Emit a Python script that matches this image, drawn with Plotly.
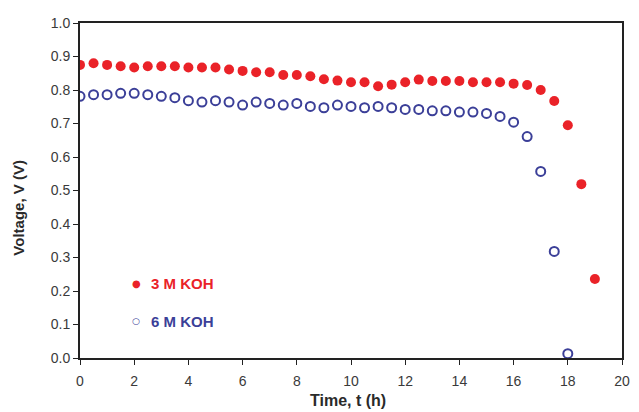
import plotly.graph_objects as go

# Discharge time (h) and cell voltage (V) for the two electrolyte concentrations
time_3m = [0, 0.5, 1, 1.5, 2, 2.5, 3, 3.5, 4, 4.5, 5, 5.5, 6, 6.5, 7, 7.5, 8, 8.5, 9, 9.5,
           10, 10.5, 11, 11.5, 12, 12.5, 13, 13.5, 14, 14.5, 15, 15.5, 16, 16.5, 17, 17.5,
           18, 18.5, 19]
volt_3m = [0.875, 0.880, 0.875, 0.871, 0.867, 0.871, 0.871, 0.871, 0.867, 0.867, 0.867,
           0.861, 0.857, 0.853, 0.853, 0.845, 0.845, 0.841, 0.832, 0.828,
           0.823, 0.823, 0.811, 0.816, 0.823, 0.831, 0.827, 0.827, 0.827, 0.823,
           0.823, 0.823, 0.819, 0.815, 0.800, 0.767, 0.695, 0.519, 0.236]

time_6m = [0, 0.5, 1, 1.5, 2, 2.5, 3, 3.5, 4, 4.5, 5, 5.5, 6, 6.5, 7, 7.5, 8, 8.5, 9, 9.5,
           10, 10.5, 11, 11.5, 12, 12.5, 13, 13.5, 14, 14.5, 15, 15.5, 16, 16.5, 17, 17.5, 18]
volt_6m = [0.781, 0.786, 0.786, 0.790, 0.790, 0.786, 0.781, 0.777, 0.768, 0.764, 0.768,
           0.764, 0.755, 0.764, 0.760, 0.755, 0.760, 0.751, 0.747, 0.755,
           0.751, 0.747, 0.751, 0.747, 0.742, 0.742, 0.738, 0.738, 0.734, 0.734,
           0.730, 0.721, 0.704, 0.661, 0.557, 0.318, 0.013]

labels = ["3 M KOH", "6 M KOH"]
x_ticks = list(range(0, 21, 2))
y_ticks = [round(0.1 * i, 1) for i in range(11)]

RED = "#ea2228"
BLUE = "#3b3f98"
FONT = "Liberation Sans, Arial, sans-serif"

fig = go.Figure()
fig.add_trace(go.Scatter(
    x=time_3m, y=volt_3m, mode="markers", name=labels[0], showlegend=False,
    marker=dict(symbol="circle", size=10, color=RED, line=dict(width=0)),
))
fig.add_trace(go.Scatter(
    x=time_6m, y=volt_6m, mode="markers", name=labels[1], showlegend=False,
    marker=dict(symbol="circle-open", size=9, color=BLUE, line=dict(width=2, color=BLUE)),
))

axis_common = dict(
    showline=True, linecolor="#222222", linewidth=2, mirror=True,
    ticks="outside", ticklen=5, tickcolor="#222222", tickwidth=1,
    showgrid=False, zeroline=False,
    tickfont=dict(family=FONT, size=14, color="#3a3a3a"),
)

fig.update_xaxes(range=[0, 20], tickvals=x_ticks, ticktext=[str(v) for v in x_ticks],
                 ticklabelstandoff=4, **axis_common)
fig.update_yaxes(range=[0, 1.0], tickvals=y_ticks, ticktext=[f"{v:.1f}" for v in y_ticks],
                 **axis_common)

# Axis titles
fig.add_annotation(text="<b>Time, t (h)</b>", xref="paper", yref="paper",
                   x=0.495, y=-0.128, xanchor="center", yanchor="middle", showarrow=False,
                   font=dict(family=FONT, size=16, color="#2a2a2a"))
fig.add_annotation(text="<b>Voltage, V (V)</b>", xref="paper", yref="paper",
                   x=-0.113, y=0.448, xanchor="center", yanchor="middle", showarrow=False,
                   textangle=-90, font=dict(family=FONT, size=15, color="#2a2a2a"))

# Key in the lower-left corner of the plot
key = [("●", labels[0], RED, 0.223, 10), ("○", labels[1], BLUE, 0.110, 9)]
for sym, lab, col, yk, sz in key:
    fig.add_annotation(text=f"<b>{sym}</b>", xref="paper", yref="paper",
                       x=0.1035, y=yk, xanchor="center", yanchor="middle", showarrow=False,
                       font=dict(family="DejaVu Sans", size=sz, color=col))
    fig.add_annotation(text=f"<b>{lab}</b>", xref="paper", yref="paper",
                       x=0.127, y=yk, xanchor="left", yanchor="middle", showarrow=False,
                       font=dict(family=FONT, size=15, color=col))

fig.update_layout(
    width=639, height=412,
    margin=dict(l=80, r=9, t=23, b=54),
    paper_bgcolor="white", plot_bgcolor="white",
    showlegend=False,
)

fig.write_html("out.html")
